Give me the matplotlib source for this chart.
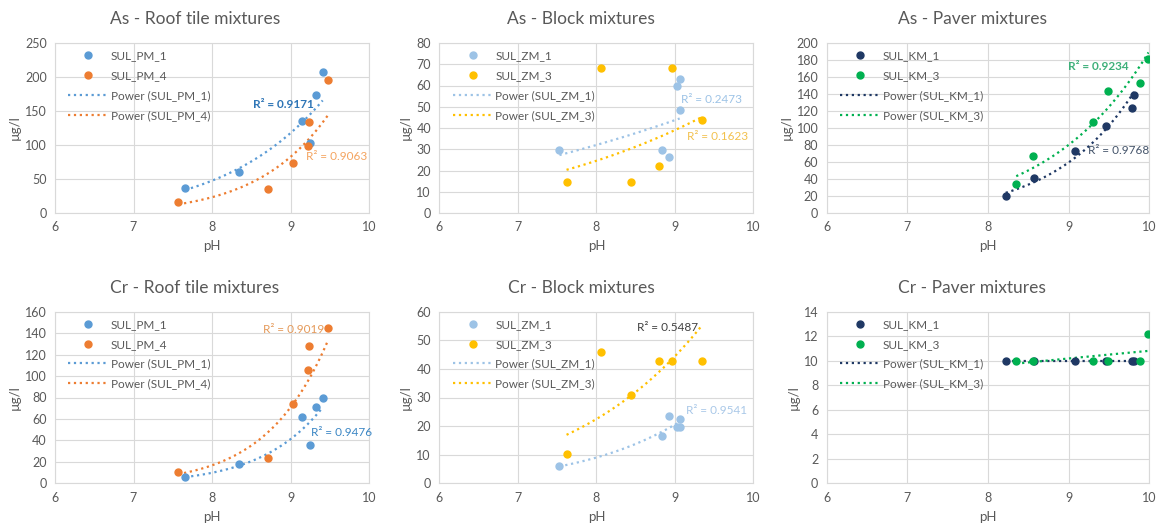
import numpy as np
import matplotlib
matplotlib.use("Agg")
import matplotlib.pyplot as plt

plt.rcParams['font.family'] = ['Lato', 'DejaVu Sans']

GREY = "#595959"
GRID = "#D9D9D9"

# pH values (shared per mixture type)
ph_pm1 = [7.66, 8.35, 9.15, 9.25, 9.33, 9.41]
ph_pm4 = [7.57, 8.71, 9.03, 9.22, 9.23, 9.48]
ph_zm1 = [7.53, 8.83, 8.93, 9.03, 9.06, 9.06]
ph_zm3 = [7.62, 8.06, 8.44, 8.80, 8.96, 9.34]
ph_km1 = [8.22, 8.57, 9.08, 9.46, 9.78, 9.81]
ph_km3 = [8.35, 8.56, 9.30, 9.49, 9.88, 9.99]

# As concentrations, ug/l
as_pm1 = [36.6, 60.5, 135, 103.5, 174, 207.5]
as_pm4 = [15.6, 36, 73, 99, 134, 195]
as_zm1 = [29.5, 29.8, 26.4, 60, 62.9, 48.3]
as_zm3 = [14.6, 68.2, 14.6, 22.1, 68.2, 44]
as_km1 = [20.3, 41.4, 73, 102.7, 124, 139]
as_km3 = [34, 66.8, 107.4, 143.8, 153.5, 181]

# Cr concentrations, ug/l
cr_pm1 = [5.6, 17.7, 62, 36, 71, 79.5]
cr_pm4 = [10.5, 24, 74, 106, 127.6, 144.7]
cr_zm1 = [5.9, 16.4, 23.5, 19.8, 19.8, 22.5]
cr_zm3 = [10.1, 46, 30.9, 42.9, 42.9, 42.9]
cr_km1 = [10, 10, 10, 10, 10, 10]
cr_km3 = [10, 10, 10, 10, 10, 12.2]

C_PM1, C_PM4 = "#5B9BD5", "#ED7D31"
C_ZM1, C_ZM3 = "#9DC3E6", "#FFC000"
C_KM1, C_KM3 = "#1F3864", "#00B050"

PANELS = [
    {'title': "As - Roof tile mixtures", 'ymax': 250, 'ystep': 50,
     'series': [("SUL_PM_1", ph_pm1, as_pm1, C_PM1), ("SUL_PM_4", ph_pm4, as_pm4, C_PM4)],
     'r2': [("R² = 0.9171", 8.52, 160, "#2E75B6", 'bold'), ("R² = 0.9063", 9.20, 83, "#F4A460", 'normal')]},
    {'title': "As - Block mixtures", 'ymax': 80, 'ystep': 10,
     'series': [("SUL_ZM_1", ph_zm1, as_zm1, C_ZM1), ("SUL_ZM_3", ph_zm3, as_zm3, C_ZM3)],
     'r2': [("R² = 0.2473", 9.08, 53.5, "#9DC3E6", 'normal'), ("R² = 0.1623", 9.15, 35.8, "#F2C14E", 'normal')]},
    {'title': "As - Paver mixtures", 'ymax': 200, 'ystep': 20,
     'series': [("SUL_KM_1", ph_km1, as_km1, C_KM1), ("SUL_KM_3", ph_km3, as_km3, C_KM3)],
     'r2': [("R² = 0.9234", 8.99, 172, "#3FB07A", 'bold'), ("R² = 0.9768", 9.24, 74, "#44546A", 'normal')]},
    {'title': "Cr - Roof tile mixtures", 'ymax': 160, 'ystep': 20,
     'series': [("SUL_PM_1", ph_pm1, cr_pm1, C_PM1), ("SUL_PM_4", ph_pm4, cr_pm4, C_PM4)],
     'r2': [("R² = 0.9019", 8.65, 143.5, "#E59A5A", 'normal'), ("R² = 0.9476", 9.26, 47.2, "#3B86C4", 'normal')]},
    {'title': "Cr - Block mixtures", 'ymax': 60, 'ystep': 10,
     'series': [("SUL_ZM_1", ph_zm1, cr_zm1, C_ZM1), ("SUL_ZM_3", ph_zm3, cr_zm3, C_ZM3)],
     'r2': [("R² = 0.5487", 8.52, 54.4, "#404040", 'normal'), ("R² = 0.9541", 9.14, 25.4, "#A9C8E8", 'normal')]},
    {'title': "Cr - Paver mixtures", 'ymax': 14, 'ystep': 2,
     'series': [("SUL_KM_1", ph_km1, cr_km1, C_KM1), ("SUL_KM_3", ph_km3, cr_km3, C_KM3)],
     'r2': []},
]

W, H = 1158, 527
fig = plt.figure(figsize=(W / 100, H / 100), dpi=100)

cols = [(55, 369), (439.3, 753.5), (826.7, 1149.3)]
rows = [(43, 213), (311.7, 483.3)]
title_x = [195, 581, 972]
title_y = [19, 288]

for i, p in enumerate(PANELS):
    r, c = divmod(i, 3)
    l, rr = cols[c]
    t, b = rows[r]
    ax = fig.add_axes([l / W, 1 - b / H, (rr - l) / W, (b - t) / H])

    for name, x, y, col in p['series']:
        ax.plot(x, y, 'o', color=col, ms=5, label=name, zorder=3)
    for name, x, y, col in p['series']:
        lx, ly = np.log(x), np.log(y)
        k, a = np.polyfit(lx, ly, 1)
        xs = np.linspace(min(x), max(x), 60)
        ax.plot(xs, np.exp(a) * xs ** k, ':', color=col, lw=1.6,
                label="Power (%s)" % name, zorder=2)

    for txt, tx, ty, tc, fw in p['r2']:
        ax.text(tx, ty, txt, color=tc, fontsize=8.5, fontweight=fw, va='center', ha='left')

    ax.set_xlim(6, 10)
    ax.set_ylim(0, p['ymax'])
    ax.set_xticks(np.arange(6, 11, 1))
    ax.set_yticks(np.arange(0, p['ymax'] + 0.1, p['ystep']))
    ax.grid(True, color=GRID, lw=0.8)
    ax.set_axisbelow(True)
    for s in ax.spines.values():
        s.set_color(GRID)
        s.set_linewidth(0.8)
    ax.tick_params(length=0, labelsize=9, colors=GREY, pad=6)
    ax.set_xlabel("pH", fontsize=9.5, color=GREY, labelpad=5)
    ax.set_ylabel("µg/l", fontsize=9.5, color=GREY, labelpad=3)

    leg = ax.legend(loc='upper left', bbox_to_anchor=(0.02, 1.0), frameon=False,
                    fontsize=8.5, handlelength=3.4, handletextpad=0.2,
                    labelspacing=0.75, numpoints=1, borderaxespad=0.2)
    for tx in leg.get_texts():
        tx.set_color(GREY)

    fig.text(title_x[c] / W, 1 - title_y[r] / H, p['title'], fontsize=12.5,
             color=GREY, ha='center', va='center')

fig.savefig("out.png", dpi=100)
